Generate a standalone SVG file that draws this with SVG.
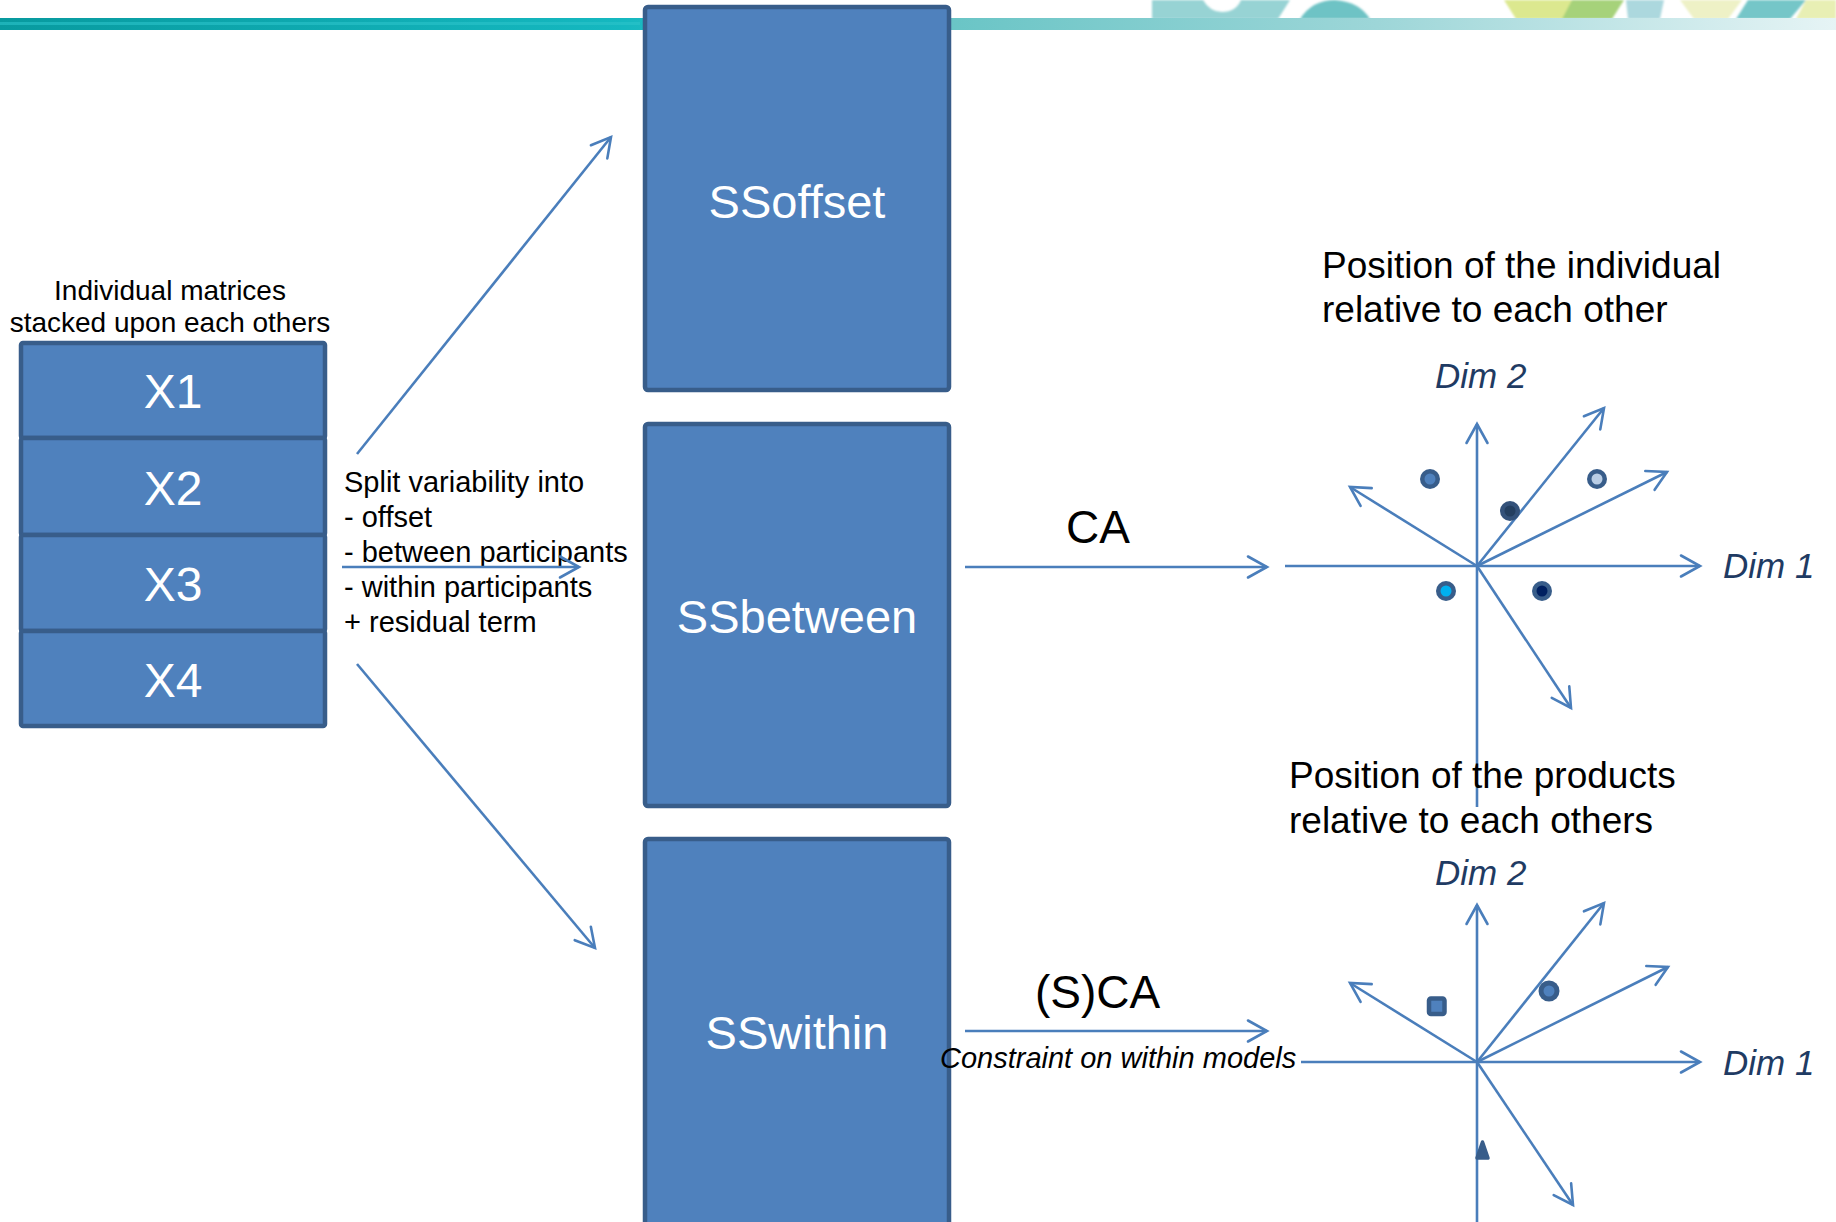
<svg xmlns="http://www.w3.org/2000/svg" width="1836" height="1222" viewBox="0 0 1836 1222">
  <style>
    .box { fill: #4f81bd; stroke: #385d8a; stroke-width: 4.5; }
    .boxlabel { font-family: "Liberation Sans", Arial, sans-serif; font-size: 47px; fill: #ffffff; text-anchor: middle; }
    .xlabel { font-family: "Liberation Sans", Arial, sans-serif; font-size: 48px; fill: #ffffff; text-anchor: middle; }
    .txt { font-family: "Liberation Sans", Arial, sans-serif; fill: #000000; }
    .dim { font-family: "Liberation Sans", Arial, sans-serif; font-style: italic; font-size: 35px; fill: #1f3b63; }
    .link { fill: none; stroke: #4a7ebb; stroke-width: 2.6; }
    .axis { fill: none; stroke: #4a7ebb; stroke-width: 2.6; marker-end: url(#head); }
    .ring { fill: #385d8a; }
  </style>
  <defs>
    <marker id="head" markerUnits="userSpaceOnUse" markerWidth="30" markerHeight="30" viewBox="-25 -15 30 30" refX="0" refY="0" orient="auto">
      <path d="M-19,-10.5 L0,0 L-19,10.5" fill="none" stroke="#4a7ebb" stroke-width="2.6" stroke-linecap="round"/>
    </marker>
    <linearGradient id="barGrad" x1="0" y1="0" x2="1" y2="0">
      <stop offset="0" stop-color="#089a9f"/>
      <stop offset="0.34" stop-color="#15b8c0"/>
      <stop offset="0.52" stop-color="#6ac5c6"/>
      <stop offset="0.75" stop-color="#9dd6d8"/>
      <stop offset="1" stop-color="#e6f4f5"/>
    </linearGradient>
    <filter id="soft" x="-10%" y="-50%" width="120%" height="200%">
      <feGaussianBlur stdDeviation="1.2"/>
    </filter>
  </defs>

  <rect width="1836" height="1222" fill="#ffffff"/>

  <!-- header band with decorative shapes -->
  <g id="header">
    <g filter="url(#soft)">
      <path d="M1152,0 L1203,0 Q1210,12 1222,12 Q1236,12 1241,0 L1290,0 L1278,19 L1152,19 Z" fill="#97d3d4"/>
      <path d="M1300,19 Q1312,0 1335,0 Q1360,2 1370,19 Z" fill="#6ec3c5"/>
      <path d="M1504,0 L1572,0 L1566,19 L1516,19 Z" fill="#dce88f"/>
      <path d="M1572,0 L1624,0 L1612,19 L1562,19 Z" fill="#a6d27a"/>
      <path d="M1626,0 L1664,0 L1660,19 L1628,19 Z" fill="#acd8de"/>
      <path d="M1680,0 L1742,0 L1728,19 L1694,19 Z" fill="#eef1c6"/>
      <path d="M1748,0 L1806,0 L1790,19 L1736,19 Z" fill="#74c6c8"/>
      <path d="M1806,0 L1836,0 L1836,19 L1796,19 Z" fill="#e8efb4"/>
    </g>
    <rect x="0" y="18" width="1836" height="12" fill="url(#barGrad)"/>
    <rect x="0" y="22" width="640" height="3" fill="#2cc3ca" opacity="0.6"/>
  </g>

  <!-- stacked individual matrices -->
  <g id="stack">
    <text class="txt" x="170" y="300" font-size="28" text-anchor="middle">Individual matrices</text>
    <text class="txt" x="170" y="332" font-size="28" text-anchor="middle">stacked upon each others</text>
    <g id="x1"><rect class="box" x="21" y="343" width="304" height="95" rx="2"/><text class="xlabel" x="173" y="408">X1</text></g>
    <g id="x2"><rect class="box" x="21" y="438" width="304" height="97" rx="2"/><text class="xlabel" x="173" y="505">X2</text></g>
    <g id="x3"><rect class="box" x="21" y="535" width="304" height="96" rx="2"/><text class="xlabel" x="173" y="601">X3</text></g>
    <g id="x4"><rect class="box" x="21" y="631" width="304" height="95" rx="2"/><text class="xlabel" x="173" y="697">X4</text></g>
  </g>

  <!-- sum-of-squares blocks -->
  <g id="ss-offset">
    <rect class="box" x="645" y="7" width="304" height="383" rx="3"/>
    <text class="boxlabel" x="797" y="218">SSoffset</text>
  </g>
  <g id="ss-between">
    <rect class="box" x="645" y="424" width="304" height="382" rx="3"/>
    <text class="boxlabel" x="797" y="633">SSbetween</text>
  </g>
  <g id="ss-within">
    <rect class="box" x="645" y="839" width="304" height="390" rx="3"/>
    <text class="boxlabel" x="797" y="1049">SSwithin</text>
  </g>

  <!-- split description -->
  <g id="split-note" class="txt" font-size="29">
    <text x="344" y="492">Split variability into</text>
    <text x="344" y="527">- offset</text>
    <text x="344" y="562">- between participants</text>
    <text x="344" y="597">- within participants</text>
    <text x="344" y="632">+ residual term</text>
  </g>

  <!-- connectors -->
  <g id="connectors">
    <line class="axis" x1="357" y1="454" x2="611" y2="137"/>
    <line class="axis" x1="357" y1="664" x2="595" y2="948"/>
    <line class="axis" x1="342" y1="567" x2="579" y2="567"/>
    <line class="axis" x1="965" y1="567" x2="1267" y2="567"/>
    <line class="axis" x1="965" y1="1031" x2="1267" y2="1031"/>
  </g>

  <!-- method labels -->
  <text class="txt" x="1066" y="543" font-size="46">CA</text>
  <text class="txt" x="1035" y="1008" font-size="46">(S)CA</text>
  <text class="txt" x="940" y="1068" font-size="29" font-style="italic">Constraint on within models</text>

  <!-- individuals map -->
  <g id="plot-individuals">
    <text class="txt" x="1322" y="278" font-size="37">Position of the individual</text>
    <text class="txt" x="1322" y="322" font-size="37">relative to each other</text>
    <text class="dim" x="1435" y="388">Dim 2</text>
    <text class="dim" x="1723" y="578">Dim 1</text>
    <line class="link" x1="1477" y1="566" x2="1477" y2="807"/>
    <line class="axis" x1="1285" y1="566" x2="1700" y2="566"/>
    <line class="axis" x1="1477" y1="566" x2="1477" y2="424"/>
    <line class="axis" x1="1477" y1="566" x2="1604" y2="408"/>
    <line class="axis" x1="1477" y1="566" x2="1667" y2="472"/>
    <line class="axis" x1="1477" y1="566" x2="1350" y2="487"/>
    <line class="axis" x1="1477" y1="566" x2="1571" y2="708"/>
    <g id="ind-points">
      <circle class="ring" cx="1430" cy="479" r="10"/><circle cx="1430" cy="479" r="5.5" fill="#4f81bd"/>
      <circle cx="1510" cy="511" r="10" fill="#34527a"/><circle cx="1510" cy="511" r="5.5" fill="#243f60"/>
      <circle class="ring" cx="1597" cy="479" r="10"/><circle cx="1597" cy="479" r="5.5" fill="#b9cde5"/>
      <circle class="ring" cx="1446" cy="591" r="10"/><circle cx="1446" cy="591" r="5.5" fill="#00b0f0"/>
      <circle class="ring" cx="1542" cy="591" r="10"/><circle cx="1542" cy="591" r="5.5" fill="#002060"/>
    </g>
  </g>

  <!-- products map -->
  <g id="plot-products">
    <text class="txt" x="1289" y="788" font-size="37">Position of the products</text>
    <text class="txt" x="1289" y="833" font-size="37">relative to each others</text>
    <text class="dim" x="1435" y="885">Dim 2</text>
    <text class="dim" x="1723" y="1075">Dim 1</text>
    <line class="link" x1="1477" y1="1062" x2="1477" y2="1222"/>
    <line class="axis" x1="1301" y1="1062" x2="1700" y2="1062"/>
    <line class="axis" x1="1477" y1="1062" x2="1477" y2="905"/>
    <line class="axis" x1="1477" y1="1062" x2="1604" y2="903"/>
    <line class="axis" x1="1477" y1="1062" x2="1668" y2="967"/>
    <line class="axis" x1="1477" y1="1062" x2="1350" y2="983"/>
    <line class="axis" x1="1477" y1="1062" x2="1573" y2="1205"/>
    <g id="prod-points">
      <rect x="1429" y="998.5" width="15.5" height="15.5" rx="2" fill="#4f81bd" stroke="#385d8a" stroke-width="4.5"/>
      <circle class="ring" cx="1549" cy="991" r="10.5"/><circle cx="1549" cy="991" r="5.5" fill="#4f81bd"/>
      <path d="M1482.5,1142 L1488,1158 L1477,1158 Z" fill="#385d8a" stroke="#385d8a" stroke-width="3.5" stroke-linejoin="round"/>
    </g>
  </g>
</svg>
